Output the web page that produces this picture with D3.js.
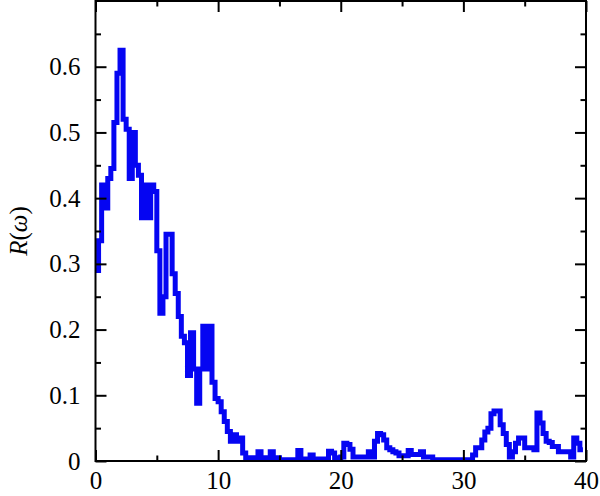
<!DOCTYPE html>
<html>
<head>
<meta charset="utf-8">
<script src="https://cdn.jsdelivr.net/npm/d3@7"></script>
<style>
  html, body { margin: 0; padding: 0; background: #fff; }
  svg { display: block; }
  text { font-family: "Liberation Serif", "Times New Roman", serif; }
</style>
</head>
<body>
<svg id="chart" width="600" height="496"></svg>
<script>
// ---- data ----
const xStep = 0.25;
const rValues = [
  0.29, 0.335, 0.42, 0.385, 0.43, 0.445, 0.515, 0.59, 0.625, 0.52,
  0.505, 0.43, 0.50, 0.45, 0.435, 0.37, 0.42, 0.37, 0.42, 0.41,
  0.32, 0.225, 0.25, 0.345, 0.345, 0.285, 0.255, 0.22, 0.19, 0.18,
  0.13, 0.195, 0.14, 0.088, 0.14, 0.205, 0.14, 0.205, 0.12, 0.095,
  0.09, 0.075, 0.06, 0.045, 0.03, 0.04, 0.03, 0.035, 0.012, 0.005,
  0.005, 0.005, 0.005, 0.014, 0.005, 0.005, 0.005, 0.014, 0.005, 0.005,
  0.002, 0.002, 0.002, 0.002, 0.002, 0.002, 0.016, 0.003, 0.003, 0.003,
  0.009, 0.003, 0.003, 0.003, 0.003, 0.003, 0.015, 0.012, 0.005, 0.005,
  0.006, 0.027, 0.025, 0.018, 0.006, 0.006, 0.006, 0.006, 0.006, 0.014,
  0.006, 0.03, 0.042, 0.04, 0.032, 0.02, 0.017, 0.014, 0.012, 0.008,
  0.008, 0.008, 0.016, 0.01, 0.01, 0.01, 0.014, 0.006, 0.006, 0.006,
  0.002, 0.002, 0.002, 0.002, 0.002, 0.002, 0.002, 0.002, 0.002, 0.002,
  0.002, 0.002, 0.002, 0.009, 0.02, 0.02, 0.032, 0.044, 0.05, 0.072,
  0.076, 0.076, 0.055, 0.042, 0.025, 0.006, 0.014, 0.027, 0.035, 0.035,
  0.02, 0.02, 0.02, 0.017, 0.073, 0.058, 0.042, 0.03, 0.028, 0.022,
  0.022, 0.014, 0.014, 0.014, 0.014, 0.006, 0.035, 0.027, 0.017, 0.017
];
const xMajorTicks = [0, 10, 20, 30, 40];
const xMinorTicks = [5, 15, 25, 35];
const yMajorTicks = [0, 0.1, 0.2, 0.3, 0.4, 0.5, 0.6];
const yMinorTicks = [0.05, 0.15, 0.25, 0.35, 0.45, 0.55, 0.65];
const xTickLabels = ["0", "10", "20", "30", "40"];
const yTickLabels = ["0", "0.1", "0.2", "0.3", "0.4", "0.5", "0.6"];

// ---- layout ----
const svg = d3.select("#chart");
const L = 95.5, R = 586, T = 1, B = 461;
const x = d3.scaleLinear().domain([0, 40]).range([L, R]);
const y = d3.scaleLinear().domain([0, 0.7]).range([B, T]);
const fontSize = 25;
const major = 11, minor = 5.5;

const data = rValues.map((v, i) => ({ x: i * xStep, v }));

// line
const line = d3.line().x(d => x(d.x)).y(d => y(d.v)).curve(d3.curveStepAfter);
svg.append("defs").append("clipPath").attr("id", "clip")
  .append("rect").attr("x", L).attr("y", T).attr("width", R - L).attr("height", B - T);
svg.append("path")
  .datum(data)
  .attr("clip-path", "url(#clip)")
  .attr("fill", "none")
  .attr("stroke", "#0505f2")
  .attr("stroke-width", 5)
  .attr("stroke-linejoin", "miter")
  .attr("d", line);

// axes (ticks inward)
function styleAxis(g) {
  g.select(".domain").remove();
  g.selectAll(".tick line").attr("stroke", "#000").attr("stroke-width", 2);
  g.selectAll(".tick text").attr("fill", "#000").style("font-size", fontSize + "px")
    .style("font-family", '"Liberation Serif", "Times New Roman", serif');
}
// bottom
svg.append("g").attr("transform", `translate(0,${B})`)
  .call(d3.axisBottom(x).tickValues(xMajorTicks).tickSizeInner(-major).tickSizeOuter(0).tickPadding(10)
    .tickFormat((d, i) => xTickLabels[i]))
  .call(styleAxis);
svg.append("g").attr("transform", `translate(0,${B})`)
  .call(d3.axisBottom(x).tickValues(xMinorTicks).tickSizeInner(-minor).tickSizeOuter(0).tickFormat(""))
  .call(styleAxis);
// top
svg.append("g").attr("transform", `translate(0,${T})`)
  .call(d3.axisTop(x).tickValues(xMajorTicks).tickSizeInner(-major).tickSizeOuter(0).tickFormat(""))
  .call(styleAxis);
svg.append("g").attr("transform", `translate(0,${T})`)
  .call(d3.axisTop(x).tickValues(xMinorTicks).tickSizeInner(-minor).tickSizeOuter(0).tickFormat(""))
  .call(styleAxis);
// left
svg.append("g").attr("transform", `translate(${L},0)`)
  .call(d3.axisLeft(y).tickValues(yMajorTicks).tickSizeInner(-major).tickSizeOuter(0).tickPadding(15)
    .tickFormat((d, i) => yTickLabels[i]))
  .call(styleAxis);
svg.append("g").attr("transform", `translate(${L},0)`)
  .call(d3.axisLeft(y).tickValues(yMinorTicks).tickSizeInner(-minor).tickSizeOuter(0).tickFormat(""))
  .call(styleAxis);
// right
svg.append("g").attr("transform", `translate(${R},0)`)
  .call(d3.axisRight(y).tickValues(yMajorTicks).tickSizeInner(-major).tickSizeOuter(0).tickFormat(""))
  .call(styleAxis);
svg.append("g").attr("transform", `translate(${R},0)`)
  .call(d3.axisRight(y).tickValues(yMinorTicks).tickSizeInner(-minor).tickSizeOuter(0).tickFormat(""))
  .call(styleAxis);

// frame
svg.append("rect")
  .attr("x", L).attr("y", T).attr("width", R - L).attr("height", B - T)
  .attr("fill", "none").attr("stroke", "#000").attr("stroke-width", 2);

// y-axis title
const yt = svg.append("text")
  .attr("transform", `translate(27,${(T + B) / 2}) rotate(-90)`)
  .attr("text-anchor", "middle")
  .style("font-size", fontSize + "px")
  .attr("fill", "#000");
yt.append("tspan").style("font-style", "italic").text("R");
yt.append("tspan").text("(");
yt.append("tspan").style("font-style", "italic").text("ω");
yt.append("tspan").text(")");
</script>
</body>
</html>
